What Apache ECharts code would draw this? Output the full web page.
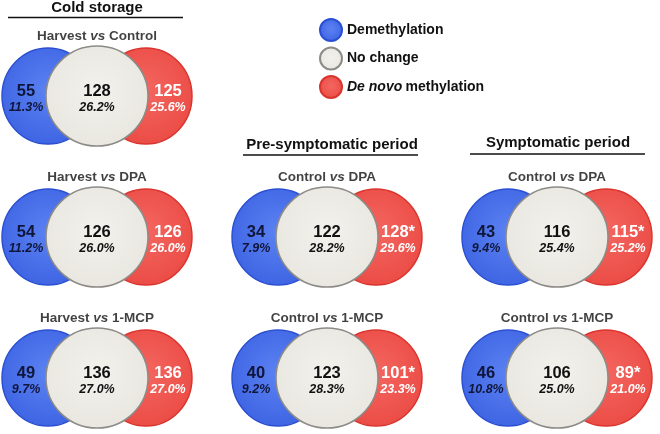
<!DOCTYPE html>
<html><head><meta charset="utf-8">
<script src="https://cdn.jsdelivr.net/npm/echarts/dist/echarts.min.js"></script>
<style>html,body{margin:0;padding:0;background:#fff}#c{width:660px;height:434px}</style>
</head><body><div id="c"></div>
<script>
// ---- data ----
const periods = ['Cold storage', 'Pre-symptomatic period', 'Symptomatic period'];
const comparisons = ['Harvest vs Control', 'Harvest vs DPA', 'Harvest vs 1-MCP',
  'Control vs DPA', 'Control vs 1-MCP', 'Control vs DPA', 'Control vs 1-MCP'];
const periodIndex = [0, 0, 0, 1, 1, 2, 2];
const rowIndex = [0, 1, 2, 1, 2, 1, 2];
const demethCount = [55, 54, 49, 34, 40, 43, 46];
const demethPct = [11.3, 11.2, 9.7, 7.9, 9.2, 9.4, 10.8];
const noChangeCount = [128, 126, 136, 122, 123, 116, 106];
const noChangePct = [26.2, 26.0, 27.0, 28.2, 28.3, 25.4, 25.0];
const denovoCount = [125, 126, 136, 128, 101, 115, 89];
const denovoPct = [25.6, 26.0, 27.0, 29.6, 23.3, 25.2, 21.0];
const significant = [false, false, false, true, true, true, true];
const legendNames = ['Demethylation', 'No change', 'De novo methylation'];

// ---- layout / style ----
const FONT = "'Liberation Sans Narrow', 'Liberation Sans', Arial, sans-serif";
const FONTW = "'Liberation Sans', Arial, sans-serif";
const SIDE_SIZE = [92, 96], MID_SIZE = [102, 100], SIDE_OFF = 49;

function rows(counts, pcts) {
  return counts.map((c, i) => [periodIndex[i], rowIndex[i], c, pcts[i], significant[i] ? 1 : 0]);
}
function grad(c0, c1) {
  return { type: 'radial', x: 0.5, y: 0.45, r: 0.6,
    colorStops: [{ offset: 0, color: c0 }, { offset: 1, color: c1 }] };
}
const numRich = (color) => ({
  n: { fontFamily: FONT, fontSize: 16.5, fontWeight: 'bold', color: color, lineHeight: 17, align: 'center' },
  p: { fontFamily: FONT, fontSize: 12.5, fontWeight: 'bold', fontStyle: 'italic', color: color, lineHeight: 15, align: 'center' }
});
const fmt = (star) => (p) => `{n|${p.value[2]}${star && p.value[4] ? '*' : ''}}\n{p|${p.value[3].toFixed(1)}%}`;

const chart = echarts.init(document.getElementById('c'), null, { renderer: 'canvas' });
chart.setOption({
  animation: false,
  backgroundColor: '#fff',
  grid: { left: 97, top: 237, width: 460, height: 141, containLabel: false },
  xAxis: { type: 'value', min: 0, max: 2, show: false },
  yAxis: { type: 'value', min: 1, max: 2, inverse: true, show: false },
  legend: {
    data: legendNames, orient: 'vertical', left: 314, top: 13, itemWidth: 22, itemHeight: 22, itemGap: 4.5,
    icon: 'circle', selectedMode: false,
    formatter: (n) => n === 'De novo methylation' ? '{i|De novo} {b|methylation}' : '{b|' + n + '}',
    textStyle: { rich: {
      b: { fontFamily: FONTW, fontSize: 14, fontWeight: 'bold', color: '#111' },
      i: { fontFamily: FONTW, fontSize: 14, fontWeight: 'bold', fontStyle: 'italic', color: '#111' } } }
  },
  graphic: [
    { type: 'text', x: 97, y: 8, style: { text: periods[0], font: "bold 15px " + FONTW, fill: '#111', textAlign: 'center', textVerticalAlign: 'middle' } },
    { type: 'line', shape: { x1: 8, y1: 17.5, x2: 183, y2: 17.5 }, style: { stroke: '#111', lineWidth: 1.5 } },
    { type: 'text', x: 332, y: 145, style: { text: periods[1], font: "bold 15px " + FONTW, fill: '#111', textAlign: 'center', textVerticalAlign: 'middle' } },
    { type: 'line', shape: { x1: 243, y1: 155, x2: 418, y2: 155 }, style: { stroke: '#111', lineWidth: 1.5 } },
    { type: 'text', x: 558, y: 143, style: { text: periods[2], font: "bold 15px " + FONTW, fill: '#111', textAlign: 'center', textVerticalAlign: 'middle' } },
    { type: 'line', shape: { x1: 470, y1: 154, x2: 645, y2: 154 }, style: { stroke: '#111', lineWidth: 1.5 } }
  ],
  series: [
    {
      name: 'Demethylation', type: 'scatter', clip: false, symbol: 'circle', symbolSize: SIDE_SIZE,
      symbolOffset: [-SIDE_OFF, 0], data: rows(demethCount, demethPct),
      itemStyle: { color: grad('#5b82f2', '#3c62e2'), borderColor: '#2a4fd2', borderWidth: 1.5, opacity: 1 },
      label: { show: true, position: 'inside', offset: [-22, 3], formatter: fmt(false), rich: numRich('#10163a') },
      emphasis: { disabled: true }
    },
    {
      name: 'De novo methylation', type: 'scatter', clip: false, symbol: 'circle', symbolSize: SIDE_SIZE,
      symbolOffset: [SIDE_OFF, 0], data: rows(denovoCount, denovoPct),
      itemStyle: { color: grad('#f46660', '#ea4a43'), borderColor: '#d9342d', borderWidth: 1.5, opacity: 1 },
      label: { show: true, position: 'inside', offset: [22, 3], formatter: fmt(true), rich: numRich('#ffffff') },
      emphasis: { disabled: true }
    },
    {
      name: 'No change', type: 'scatter', clip: false, symbol: 'circle', symbolSize: MID_SIZE,
      data: rows(noChangeCount, noChangePct),
      itemStyle: { color: grad('#f2f1ec', '#e8e6df'), borderColor: '#8c8b87', borderWidth: 1.5, opacity: 1 },
      label: { show: true, position: 'inside', offset: [0, 3], formatter: fmt(false), rich: numRich('#111111') },
      emphasis: { disabled: true }
    },
    {
      name: 'titles', type: 'scatter', clip: false, symbolSize: 1,
      data: comparisons.map((t, i) => [periodIndex[i], rowIndex[i], t]),
      itemStyle: { color: 'rgba(0,0,0,0)' },
      label: {
        show: true, position: 'inside', offset: [0, -60],
        formatter: (p) => { const s = p.value[2].split(' vs '); return `{t|${s[0]} }{i|vs}{t| ${s[1]}}`; },
        rich: {
          t: { fontFamily: FONTW, fontSize: 13.5, fontWeight: 'bold', color: '#111' },
          i: { fontFamily: FONTW, fontSize: 13.5, fontWeight: 'bold', fontStyle: 'italic', color: '#111' } }
      },
      emphasis: { disabled: true }, tooltip: { show: false }
    }
  ]
});
</script></body></html>
